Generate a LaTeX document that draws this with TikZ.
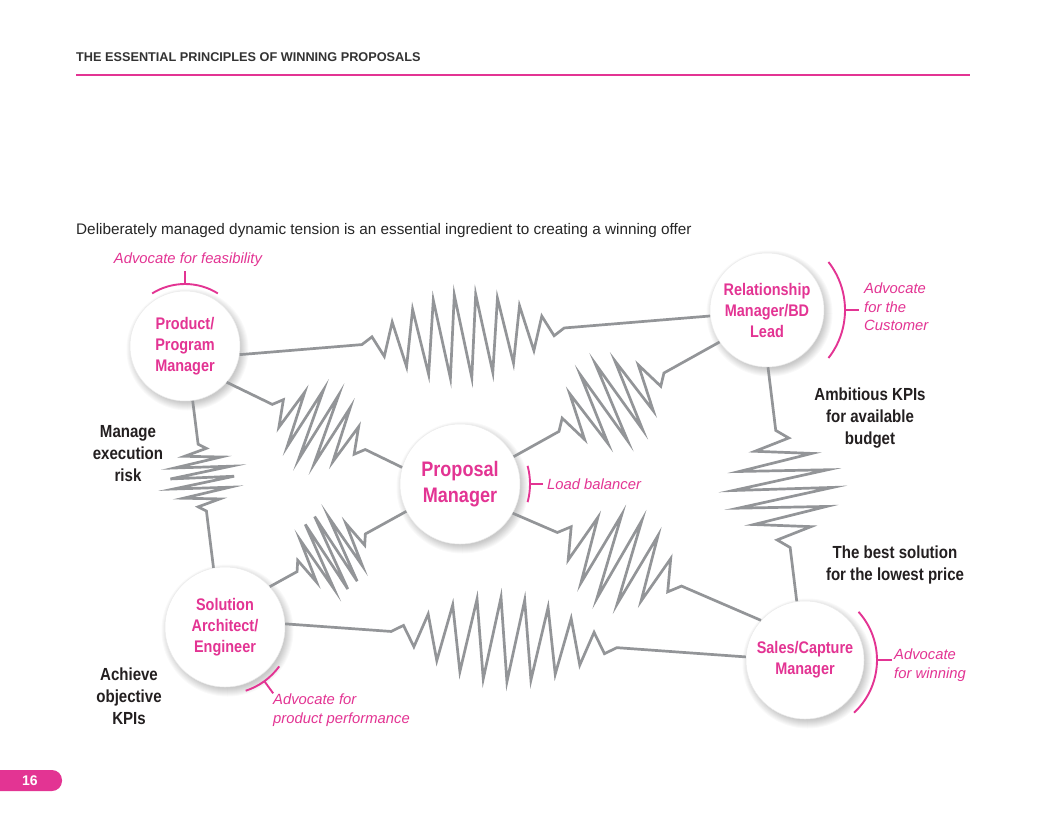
\documentclass[tikz,border=0pt]{standalone}
\usepackage{fontspec}
\setmainfont{Liberation Sans}
\newfontfamily\condfont[FakeStretch=0.86]{Liberation Sans}
\usepackage{xcolor}
\usepackage{tikz}
\usetikzlibrary{positioning, calc, backgrounds}

\definecolor{pinkmag}{RGB}{227,52,147}
\definecolor{springgray}{RGB}{147,149,152}
\definecolor{darktext}{RGB}{35,31,32}

\tikzset{
  person/.style={circle, draw=black!8, line width=0.5pt, fill=white, text=pinkmag, align=center, inner sep=0pt,
    font=\condfont\bfseries\fontsize{16.8}{21}\selectfont},
  springline/.style={draw=springgray, line width=2.7pt, line join=miter, miter limit=12},
  bracket/.style={draw=pinkmag, line width=1.9pt},
  note/.style={text=pinkmag, align=left, inner sep=0pt, font=\itshape\fontsize{14.8}{18.5}\selectfont},
  sidelabel/.style={text=darktext, align=center, inner sep=0pt, font=\condfont\bfseries\fontsize{17.5}{22}\selectfont},
}

\newcommand{\spring}[6]{%
  \draw[springline] (#1) -- ($(#1)!#3!(#2)$)
    \foreach \k in {1,...,#5}{
      -- ($(#1)!{#3+(#4-#3)*\k/(#5+1)}!(#2)!{(2*mod(\k,2)-1)*#6*sin(180*\k/(#5+1))*1pt}!90:(#2)$)
    }
    -- ($(#1)!#4!(#2)$) -- (#2);
}

\begin{document}
\begin{tikzpicture}[x=1pt, y=1pt]
\useasboundingbox (0,0) rectangle (1045,-825);

\node[anchor=west, text=black!80, font=\bfseries\fontsize{12.7}{14}\selectfont, inner sep=0pt] (title) at (76,-57) {THE ESSENTIAL PRINCIPLES OF WINNING PROPOSALS};
\draw[pinkmag, line width=1.6pt] (76,-75) -- (970,-75);
\node[anchor=west, text=black!85, font=\fontsize{15.3}{18}\selectfont, inner sep=0pt] (lead) at (76,-231) {Deliberately managed dynamic tension is an essential ingredient to creating a winning offer};

\node[person, minimum size=110pt] (prod) at (185,-346) {Product/\\Program\\Manager};
\node[person, minimum size=114pt] (rel) at (767,-310) {Relationship\\Manager/BD\\Lead};
\node[person, minimum size=120pt, font=\condfont\bfseries\fontsize{21}{26}\selectfont] (pm) at (460,-484) {Proposal\\Manager};
\node[person, minimum size=120pt] (sol) at (225,-627) {Solution\\Architect/\\Engineer};
\node[person, minimum size=118pt] (sales) at (805,-660) {Sales/Capture\\Manager};

\begin{scope}[on background layer]
\fill[white] (0,0) rectangle (1045,-825);
\foreach \n/\r in {prod/55, rel/57, pm/60, sol/60, sales/59}
  \foreach \s in {1,...,9}
    \fill[black, opacity=0.024] ([shift={(2.5,-3.5)}]\n.center) circle[radius=\r-3+\s];
\end{scope}

\spring{prod.-9}{rel.186}{0.26}{0.69}{18}{42}
\spring{prod.-41}{pm.164}{0.26}{0.79}{12}{38}
\spring{rel.-146}{pm.27}{0.27}{0.78}{12}{42}
\spring{prod.-82}{sol.101}{0.26}{0.66}{12}{32}
\spring{pm.-153}{sol.42}{0.3}{0.8}{12}{40}
\spring{pm.-29}{sales.138}{0.18}{0.68}{12}{45}
\spring{sol.3}{sales.177}{0.23}{0.72}{18}{42}
\spring{rel.-89}{sales.98}{0.27}{0.77}{12}{50}

\draw[bracket] ([shift={(58:62)}]prod.center) arc[start angle=58, end angle=122, radius=62];
\draw[bracket] ([shift={(90:62)}]prod.center) -- ([shift={(90:75)}]prod.center);
\node[note] (feas) at (188,-260) {Advocate for feasibility};

\draw[bracket] ([shift={(-38:78)}]rel.center) arc[start angle=-38, end angle=38, radius=78];
\draw[bracket] ([shift={(0:78)}]rel.center) -- ([shift={(0:92)}]rel.center);
\node[note, anchor=west] (cust) at (864,-307) {Advocate\\for the\\Customer};

\draw[bracket] ([shift={(-15:70)}]pm.center) arc[start angle=-15, end angle=15, radius=70];
\draw[bracket] ([shift={(0:70)}]pm.center) -- ([shift={(0:83)}]pm.center);
\node[note, anchor=west] (load) at (547,-484) {Load balancer};

\draw[bracket] ([shift={(-72:67)}]sol.center) arc[start angle=-72, end angle=-36, radius=67];
\draw[bracket] ([shift={(-54:67)}]sol.center) -- ([shift={(-54:82)}]sol.center);
\node[note, anchor=west] (perf) at (273,-710) {Advocate for\\product performance};

\draw[bracket] ([shift={(-47:72)}]sales.center) arc[start angle=-47, end angle=42, radius=72];
\draw[bracket] ([shift={(0:72)}]sales.center) -- ([shift={(0:87)}]sales.center);
\node[note, anchor=west] (win) at (894,-665) {Advocate\\for winning};

\node[sidelabel] (risk) at (128,-454) {Manage\\execution\\risk};
\node[sidelabel] (kpi) at (870,-418) {Ambitious KPIs\\for available\\budget};
\node[sidelabel] (price) at (895,-565) {The best solution\\for the lowest price};
\node[sidelabel] (obj) at (129,-696) {Achieve\\objective\\KPIs};

\fill[pinkmag, rounded corners=10pt] (-20,-770) rectangle (62,-791);
\node[text=white, font=\bfseries\fontsize{14}{16}\selectfont] (page) at (30,-780.5) {16};
\end{tikzpicture}
\end{document}
